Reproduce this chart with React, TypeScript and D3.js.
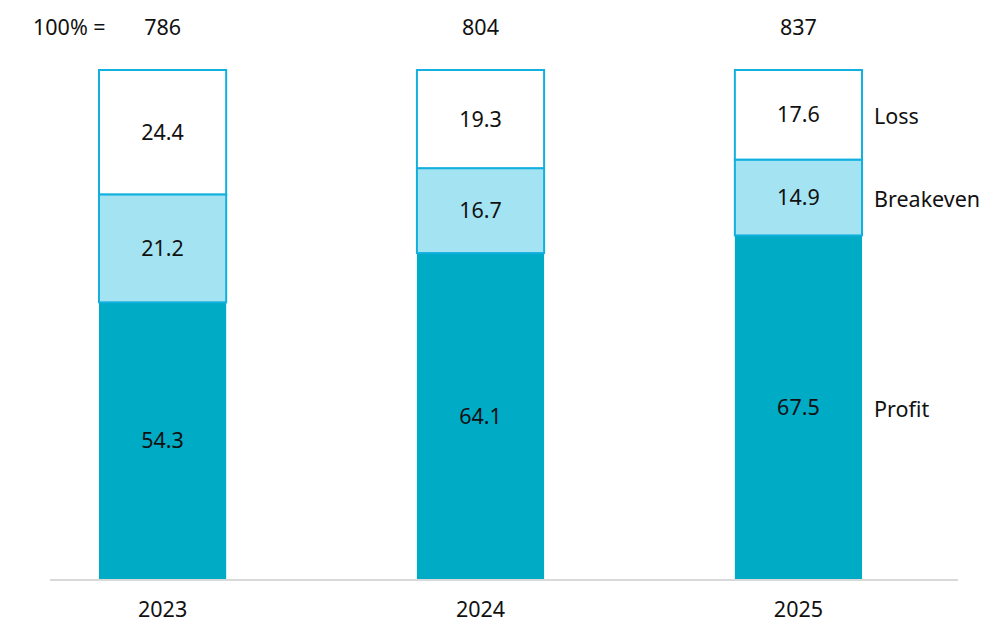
import React from 'react';
import * as d3 from 'd3';

// Chart data
const years = ['2023', '2024', '2025'];
const totals = [786, 804, 837];
const profit = [54.3, 64.1, 67.5];
const breakeven = [21.2, 16.7, 14.9];
const loss = [24.4, 19.3, 17.6];
const seriesNames = ['Profit', 'Breakeven', 'Loss'];

const WIDTH = 1002;
const HEIGHT = 641;
const FONT = '"Noto Sans", "Open Sans", sans-serif';
const FS = 21.5;

const fills: Record<string, string> = {
  Profit: '#00abc6',
  Breakeven: '#a4e4f2',
  Loss: '#ffffff',
};
const strokes: Record<string, string | null> = {
  Profit: null,
  Breakeven: '#12b0de',
  Loss: '#12b0de',
};

export default function App() {
  const axisLeft = 50;
  const axisRight = 958;
  const top = 70;
  const baseline = 579;

  const x = d3.scaleBand<string>()
    .domain(years)
    .range([axisLeft, axisRight])
    .paddingInner(0.6)
    .paddingOuter(0.228)
    .align(0.338);

  // each bar normalised to 100%
  const y = d3.scaleLinear().domain([0, 1]).range([baseline, top]);

  const rows = years.map((year, i) => {
    const sum = profit[i] + breakeven[i] + loss[i];
    return { year, Profit: profit[i] / sum, Breakeven: breakeven[i] / sum, Loss: loss[i] / sum };
  });
  const labels = years.map((_, i) => ({ Profit: profit[i], Breakeven: breakeven[i], Loss: loss[i] }));

  const stacked = d3.stack<any>().keys(seriesNames)(rows);
  const bw = x.bandwidth();
  const lastYear = years[years.length - 1];

  return (
    <svg width={WIDTH} height={HEIGHT} style={{ position: 'absolute', left: 0, top: 0 }} fontFamily={FONT}>
      <rect width={WIDTH} height={HEIGHT} fill="#fff" />

      {/* 100% = totals row */}
      <text x={33} y={35} fontSize={FS} fill="#111">100% =</text>
      {years.map((yr, i) => (
        <text key={yr} x={x(yr)! + bw / 2} y={35} fontSize={FS} textAnchor="middle" fill="#111">
          {totals[i]}
        </text>
      ))}

      {stacked.map((layer) => {
        const key = layer.key;
        const stroke = strokes[key];
        return (
          <g key={key}>
            {layer.map((d, i) => {
              const yr = years[i];
              const y0 = y(d[0]);
              const y1 = y(d[1]);
              return (
                <g key={yr}>
                  <rect
                    x={x(yr)!}
                    y={y1}
                    width={bw}
                    height={y0 - y1}
                    fill={fills[key]}
                    stroke={stroke ?? 'none'}
                    strokeWidth={stroke ? 2 : 0}
                  />
                  <text
                    x={x(yr)! + bw / 2}
                    y={(y0 + y1) / 2}
                    dy="0.35em"
                    fontSize={FS}
                    textAnchor="middle"
                    fill="#111"
                  >
                    {labels[i][key as 'Profit'].toFixed(1)}
                  </text>
                </g>
              );
            })}
          </g>
        );
      })}

      {/* series labels beside last bar */}
      {stacked.map((layer) => {
        const d = layer[layer.length - 1];
        return (
          <text
            key={layer.key}
            x={x(lastYear)! + bw + 12}
            y={(y(d[0]) + y(d[1])) / 2 + 2}
            dy="0.35em"
            fontSize={FS}
            fill="#111"
          >
            {layer.key}
          </text>
        );
      })}

      {/* baseline */}
      <line x1={axisLeft} x2={axisRight} y1={baseline + 1} y2={baseline + 1} stroke="#d9d9d9" strokeWidth={2} />

      {years.map((yr) => (
        <text key={yr} x={x(yr)! + bw / 2} y={617} fontSize={FS} textAnchor="middle" fill="#111">
          {yr}
        </text>
      ))}
    </svg>
  );
}
